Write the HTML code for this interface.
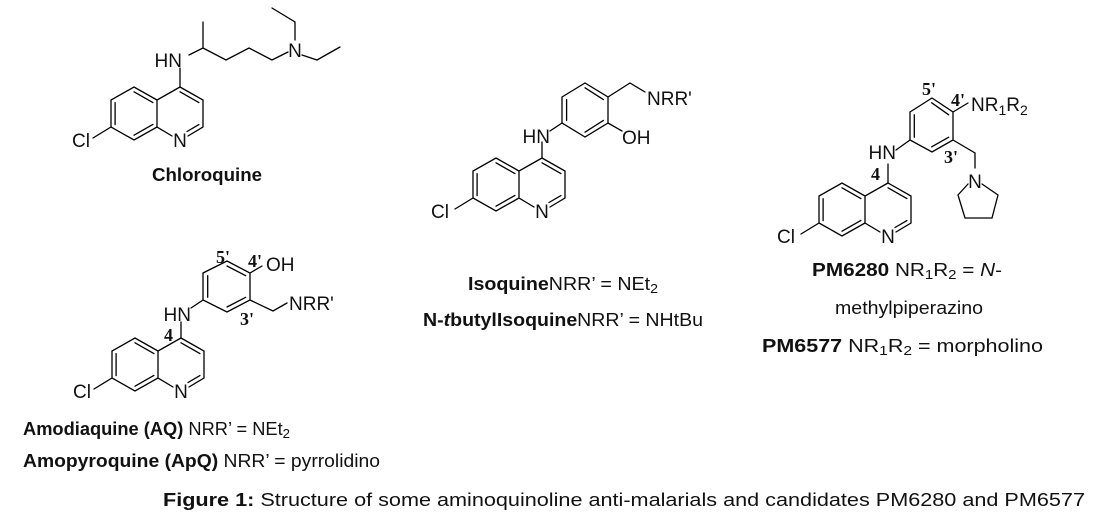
<!DOCTYPE html>
<html><head><meta charset="utf-8"><style>
html,body{margin:0;padding:0;background:#fff;}
svg{display:block;}
.b{stroke:#000;stroke-width:1.3;fill:none;stroke-linecap:round;}
.a{font-family:"Liberation Sans",sans-serif;font-size:19px;fill:#111;}
.n{font-family:"Liberation Serif",serif;font-size:18px;font-weight:bold;fill:#111;}
.t{font-family:"Liberation Sans",sans-serif;font-size:18px;fill:#111;}
.tb{font-weight:bold;}
</style></head><body>
<svg width="1100" height="520" viewBox="0 0 1100 520" xmlns="http://www.w3.org/2000/svg">
<defs>
<g id="q">
<path class="b" d="M0,0 L23,13 L23,40 L8,49 M-8,49 L-23,40 L-23,13 L0,0 M-23,13 L-46,0 L-69,13 L-69,40 L-46,53 L-23,40 M-69,40 L-87,51"/>
<path class="b" d="M0,4.8 L18.9,15.6 M18.9,37.6 L7,44.5 M-46,4.8 L-27.1,15.6 M-64.9,15.6 L-64.9,37.6 M-46,48.2 L-27.1,37.4"/>
</g>
</defs>

<!-- Chloroquine -->
<use href="#q" x="180" y="87"/>
<text class="a" x="180" y="147" text-anchor="middle">N</text>
<text class="a" x="72" y="147">Cl</text>
<path class="b" d="M180,87 L180,68 M189,55 L203,48 L203,22 M203,48 L226,60 L249,48 L272,60 L288,52 M295,40 L295,22 L272,8 M302,55 L317,60 L340,47"/>
<text class="a" x="182" y="67" text-anchor="end">HN</text>
<text class="a" x="295" y="57" text-anchor="middle">N</text>
<text class="t tb" x="152" y="181" textLength="110" lengthAdjust="spacingAndGlyphs">Chloroquine</text>

<!-- Amodiaquine -->
<use href="#q" x="181" y="338"/>
<text class="a" x="181" y="398" text-anchor="middle">N</text>
<text class="a" x="73" y="398">Cl</text>
<path class="b" d="M181,338 L181,322 M191,308 L203,300"/>
<path class="b" d="M203,273 L227,261 L250,273 L250,300 L227,312 L203,300 Z M207.7,275.7 L207.7,297.3 M227,266 L245.7,275.7 M227,307 L245.7,297.3 M250,273 L262,266 M250,300 L273,311 L287,303"/>
<text class="a" x="191" y="321" text-anchor="end">HN</text>
<text class="a" x="266" y="271">OH</text>
<text class="a" x="289" y="310">NRR'</text>
<text class="n" x="216" y="263">5'</text>
<text class="n" x="248" y="267">4'</text>
<text class="n" x="240" y="325">3'</text>
<text class="n" x="164" y="341">4</text>
<text class="t" x="23" y="435" textLength="267" lengthAdjust="spacingAndGlyphs"><tspan class="tb">Amodiaquine (AQ)</tspan> NRR’ = NEt<tspan font-size="13" dy="3">2</tspan></text>
<text class="t" x="23" y="467" textLength="357" lengthAdjust="spacingAndGlyphs"><tspan class="tb">Amopyroquine (ApQ)</tspan> NRR’ = pyrrolidino</text>

<!-- Isoquine -->
<use href="#q" x="542" y="158"/>
<text class="a" x="542" y="218" text-anchor="middle">N</text>
<text class="a" x="431" y="218">Cl</text>
<path class="b" d="M542,158 L542,142 M550,131 L562,123"/>
<path class="b" d="M562,97 L585,83 L608,97 L608,123 L585,137 L562,123 Z M566.6,99.6 L566.6,120.4 M585,87.8 L603.4,99.6 M585,132.2 L603.4,120.4 M608,97 L630,83 L645,92 M608,123 L622,131"/>
<text class="a" x="550" y="143" text-anchor="end">HN</text>
<text class="a" x="647" y="105">NRR'</text>
<text class="a" x="622" y="144">OH</text>
<text class="t" x="468" y="290" textLength="190" lengthAdjust="spacingAndGlyphs"><tspan class="tb">Isoquine</tspan>NRR’ = NEt<tspan font-size="13" dy="3">2</tspan></text>
<text class="t" x="423" y="326" textLength="280" lengthAdjust="spacingAndGlyphs"><tspan class="tb">N-<tspan font-style="italic">t</tspan>butylIsoquine</tspan>NRR’ = NHtBu</text>

<!-- PM6280 -->
<use href="#q" x="888" y="183"/>
<text class="a" x="888" y="243" text-anchor="middle">N</text>
<text class="a" x="777" y="243">Cl</text>
<path class="b" d="M888,183 L888,164 M896,150 L910,140"/>
<path class="b" d="M910,112 L932,98 L953,112 L953,140 L932,152 L910,140 Z M914.3,114.8 L914.3,137.2 M931.7,102.8 L948.7,114.8 M931.7,146.8 L948.7,137.2 M953,112 L968,103 M953,140 L975,153 L975,168 M968,184 L958,195 L965,218 L992,218 L998,195 L982,184"/>
<text class="a" x="896" y="159" text-anchor="end">HN</text>
<text class="a" x="975" y="188" text-anchor="middle">N</text>
<text class="a" x="971" y="111">NR<tspan font-size="14" dy="4">1</tspan><tspan dy="-4">R</tspan><tspan font-size="14" dy="4">2</tspan></text>
<text class="n" x="922" y="95">5'</text>
<text class="n" x="951" y="106">4'</text>
<text class="n" x="944" y="163">3'</text>
<text class="n" x="871" y="180">4</text>
<text class="t" x="812" y="276" textLength="190" lengthAdjust="spacingAndGlyphs"><tspan class="tb">PM6280</tspan> NR<tspan font-size="13" dy="3">1</tspan><tspan dy="-3">R</tspan><tspan font-size="13" dy="3">2</tspan><tspan dy="-3"> = </tspan><tspan font-style="italic">N</tspan>-</text>
<text class="t" x="835" y="314" textLength="148" lengthAdjust="spacingAndGlyphs">methylpiperazino</text>
<text class="t" x="762" y="352" textLength="281" lengthAdjust="spacingAndGlyphs"><tspan class="tb">PM6577</tspan> NR<tspan font-size="13" dy="3">1</tspan><tspan dy="-3">R</tspan><tspan font-size="13" dy="3">2</tspan><tspan dy="-3"> = morpholino</tspan></text>

<!-- caption -->
<text class="t" x="163" y="506" textLength="922" lengthAdjust="spacingAndGlyphs"><tspan class="tb">Figure 1:</tspan> Structure of some aminoquinoline anti-malarials and candidates PM6280 and PM6577</text>
</svg>
</body></html>
